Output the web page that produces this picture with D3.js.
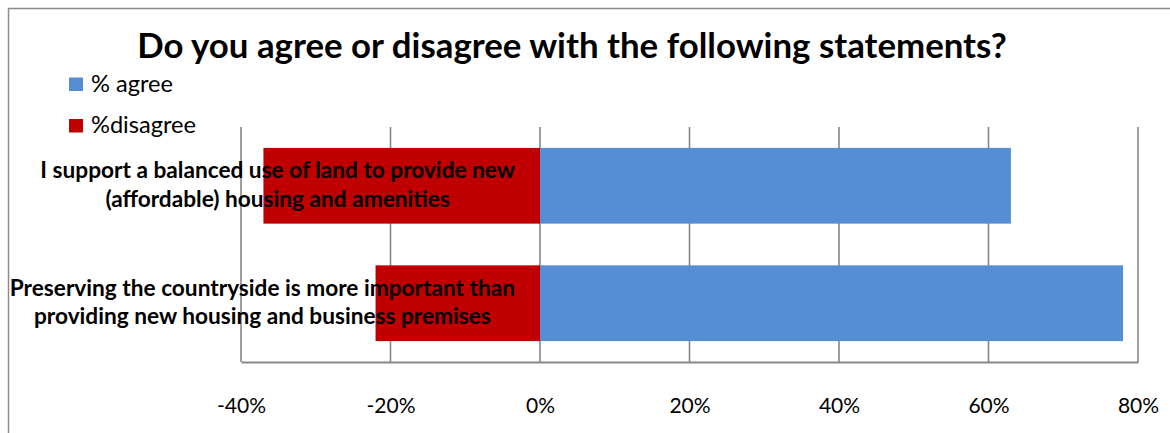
<!DOCTYPE html>
<html>
<head>
<meta charset="utf-8">
<script src="https://cdn.jsdelivr.net/npm/d3@7"></script>
<style>
  html, body { margin: 0; padding: 0; background: #fff; }
  svg { display: block; }
  text { font-family: Lato, "Open Sans", sans-serif; fill: #000; }
</style>
</head>
<body>
<svg id="chart" width="1170" height="433"></svg>
<script>
// Survey statements, top to bottom, with their wrapped label lines
const categories = [
  "I support a balanced use of land to provide new (affordable) housing and amenities",
  "Preserving the countryside is more important than providing new housing and business premises"
];
const categoryLines = [
  ["I support a balanced use of land to provide new", "(affordable) housing and amenities"],
  ["Preserving the countryside is more important than", "providing new housing and business premises"]
];
// Share of respondents (disagree plotted as negative)
const agree    = [0.63, 0.78];
const disagree = [-0.37, -0.22];

const seriesNames = ["% agree", "%disagree"];
const tickValues = [-0.4, -0.2, 0, 0.2, 0.4, 0.6, 0.8];
const titleText = "Do you agree or disagree with the following statements?";

const colors = { agree: "#558ED5", disagree: "#C00000", grid: "#878787" };

const svg = d3.select("#chart");

// Plot area
const plot = { left: 241, right: 1138, top: 127, bottom: 362 };

const x = d3.scaleLinear().domain([-0.4, 0.8]).range([plot.left, plot.right]);
const y = d3.scaleBand().domain(categories).range([plot.top, plot.bottom])
  .paddingInner(0.355).paddingOuter(0.178);

// Scale a text's font size so it spans the given width
function fitWidth(sel, target) {
  const w = sel.node().getComputedTextLength();
  const fs = parseFloat(sel.attr("font-size"));
  const nfs = fs * target / w;
  sel.attr("font-size", nfs);
  return nfs;
}

// Outer chart frame
svg.append("rect")
  .attr("x", 8.5).attr("y", 8.5)
  .attr("width", 1300).attr("height", 600)
  .attr("fill", "none").attr("stroke", "#8c8c8c").attr("stroke-width", 1.5);

// Title
const title = svg.append("text")
  .attr("x", 572).attr("y", 58)
  .attr("text-anchor", "middle")
  .attr("font-weight", "bold")
  .attr("font-size", 30)
  .text(titleText);
fitWidth(title, 870);

// Vertical gridlines
svg.append("g").selectAll("line")
  .data(tickValues)
  .join("line")
  .attr("x1", d => x(d)).attr("x2", d => x(d))
  .attr("y1", plot.top).attr("y2", plot.bottom)
  .attr("stroke", colors.grid).attr("stroke-width", 1.6);

// Horizontal axis with labels below
const xAxis = d3.axisBottom(x)
  .tickValues(tickValues)
  .tickFormat(d => d3.format(".0%")(d).replace("−", "-"))
  .tickSize(0)
  .tickPadding(0);

const axisG = svg.append("g")
  .attr("transform", `translate(0,${plot.bottom})`)
  .call(xAxis);
axisG.select(".domain")
  .attr("stroke", colors.grid).attr("stroke-width", 1.8);
axisG.selectAll(".tick text")
  .attr("font-family", "Lato, 'Open Sans', sans-serif")
  .attr("fill", "#000")
  .attr("dy", 0)
  .attr("y", 51)
  .attr("font-size", 21);

// Bars: disagree (negative) and agree (positive)
const bars = svg.append("g");
bars.selectAll("rect.disagree")
  .data(categories)
  .join("rect")
  .attr("class", "disagree")
  .attr("x", (d, i) => x(disagree[i]))
  .attr("width", (d, i) => x(0) - x(disagree[i]))
  .attr("y", d => y(d))
  .attr("height", y.bandwidth())
  .attr("fill", colors.disagree);
bars.selectAll("rect.agree")
  .data(categories)
  .join("rect")
  .attr("class", "agree")
  .attr("x", x(0))
  .attr("width", (d, i) => x(agree[i]) - x(0))
  .attr("y", d => y(d))
  .attr("height", y.bandwidth())
  .attr("fill", colors.agree);

// Category labels, drawn over the bars, centred within a right-aligned block
const labelRight = 515;
const labelG = svg.append("g");
const probe = labelG.append("text")
  .attr("font-weight", "bold").attr("font-size", 20)
  .text(categoryLines[0][0]);
const labelFs = fitWidth(probe, 475);
probe.remove();

categories.forEach((cat, i) => {
  const lines = categoryLines[i];
  const t = labelG.append("text")
    .attr("font-weight", "bold")
    .attr("font-size", labelFs)
    .attr("text-anchor", "middle");
  const lineH = 28.5;
  const cy = y(cat) + y.bandwidth() / 2;
  const firstBaseline = cy + 6.8 - lineH * (lines.length - 1) / 2;
  lines.forEach((ln, j) => {
    t.append("tspan").attr("y", firstBaseline + j * lineH).text(ln);
  });
  let maxW = 0;
  t.selectAll("tspan").each(function() {
    maxW = Math.max(maxW, this.getComputedTextLength());
  });
  t.selectAll("tspan").attr("x", labelRight - maxW / 2);
});

// Legend
const legend = svg.append("g");
const legendItems = [
  { name: seriesNames[0], color: colors.agree },
  { name: seriesNames[1], color: colors.disagree }
];
legendItems.forEach((it, i) => {
  const yy = 77.5 + i * 41.5;
  legend.append("rect")
    .attr("x", 69).attr("y", yy)
    .attr("width", 14).attr("height", 13.5)
    .attr("fill", it.color);
  legend.append("text")
    .attr("x", 91).attr("y", yy + 14.3)
    .attr("font-size", 22)
    .text(it.name);
});
const legTexts = legend.selectAll("text");
const legFs = fitWidth(d3.select(legTexts.nodes()[0]), 82);
legTexts.attr("font-size", legFs);
</script>
</body>
</html>
